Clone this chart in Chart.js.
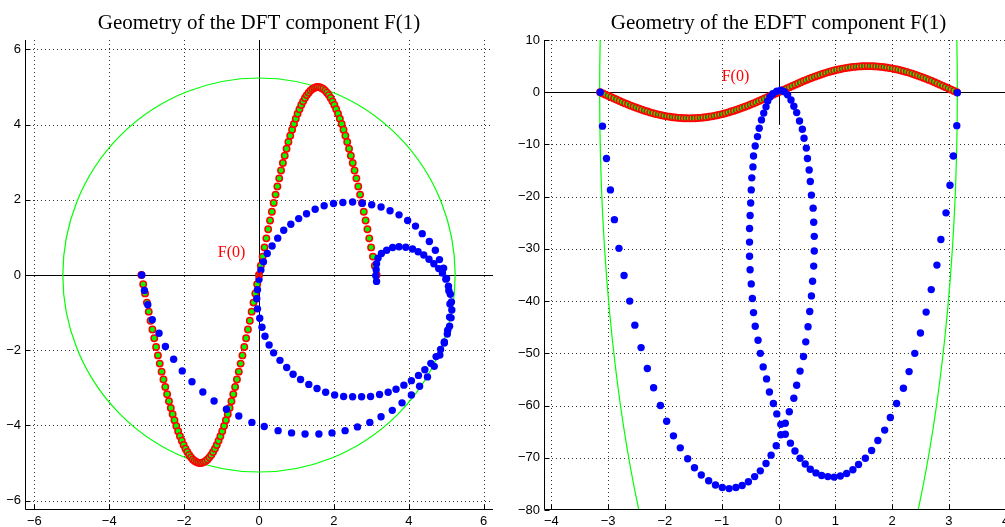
<!DOCTYPE html>
<html><head><meta charset="utf-8">
<script src="https://cdn.jsdelivr.net/npm/chart.js@4.4.1/dist/chart.umd.min.js"></script>
<style>
html,body{margin:0;padding:0;background:#fff;overflow:hidden;width:1005px;height:527px}
#c1{position:absolute;left:0;top:0;width:500px;height:527px}
#c2{position:absolute;left:500px;top:0;width:520px;height:527px}
</style></head><body>
<canvas id="c1" width="500" height="527"></canvas>
<canvas id="c2" width="520" height="527"></canvas>
<script>
// ---------- data ----------
const theta = [
-3.142,-3.093,-3.043,-2.994,-2.945,-2.896,-2.847,-2.798,-2.749,-2.700,
-2.651,-2.601,-2.552,-2.503,-2.454,-2.405,-2.356,-2.307,-2.258,-2.209,
-2.160,-2.111,-2.062,-2.013,-1.963,-1.914,-1.865,-1.816,-1.767,-1.718,
-1.669,-1.620,-1.571,-1.522,-1.473,-1.424,-1.374,-1.325,-1.276,-1.227,
-1.178,-1.129,-1.080,-1.031,-0.982,-0.933,-0.884,-0.834,-0.785,-0.736,
-0.687,-0.638,-0.589,-0.540,-0.491,-0.442,-0.393,-0.344,-0.295,-0.245,
-0.196,-0.147,-0.098,-0.049,0,
0.049,0.098,0.147,0.196,0.245,0.295,0.344,0.393,0.442,0.491,
0.540,0.589,0.638,0.687,0.736,0.785,0.834,0.884,0.933,0.982,
1.031,1.080,1.129,1.178,1.227,1.276,1.325,1.374,1.424,1.473,
1.522,1.571,1.620,1.669,1.718,1.767,1.816,1.865,1.914,1.963,
2.013,2.062,2.111,2.160,2.209,2.258,2.307,2.356,2.405,2.454,
2.503,2.552,2.601,2.651,2.700,2.749,2.798,2.847,2.896,2.945,
2.994,3.043,3.093,3.142];
const sineVals = [
0,-0.245,-0.490,-0.734,-0.975,-1.215,-1.451,-1.684,-1.913,-2.138,
-2.357,-2.571,-2.778,-2.978,-3.172,-3.358,-3.536,-3.705,-3.865,-4.016,
-4.157,-4.289,-4.410,-4.520,-4.619,-4.708,-4.785,-4.850,-4.904,-4.946,
-4.976,-4.994,-5.000,
-4.994,-4.976,-4.946,-4.904,-4.850,-4.785,-4.708,-4.619,-4.520,-4.410,
-4.289,-4.157,-4.016,-3.865,-3.705,-3.536,-3.358,-3.172,-2.978,-2.778,
-2.571,-2.357,-2.138,-1.913,-1.684,-1.451,-1.215,-0.975,-0.734,-0.490,
-0.245,0,
0.245,0.490,0.734,0.975,1.215,1.451,1.684,1.913,2.138,
2.357,2.571,2.778,2.978,3.172,3.358,3.536,3.705,3.865,4.016,
4.157,4.289,4.410,4.520,4.619,4.708,4.785,4.850,4.904,4.946,
4.976,4.994,5.000,
4.994,4.976,4.946,4.904,4.850,4.785,4.708,4.619,4.520,4.410,
4.289,4.157,4.016,3.865,3.705,3.536,3.358,3.172,2.978,2.778,
2.571,2.357,2.138,1.913,1.684,1.451,1.215,0.975,0.734,0.490,
0.245,0];

// DFT component F(1): real and imaginary parts
const dftRe = [
-3.13,-3.06,-2.97,-2.85,-2.67,-2.50,-2.28,-2.05,-1.79,-1.50,-1.20,-0.87,-0.54,-0.19,0.14,0.51,0.87,1.23,1.60,1.95,
2.30,2.63,2.96,3.26,3.56,3.82,4.07,4.29,4.50,4.68,4.83,4.95,5.04,5.09,5.10,5.07,
5.01,4.93,4.82,4.71,4.55,4.36,4.18,3.97,3.74,3.50,3.26,3.01,2.76,2.50,2.24,1.99,1.74,1.50,1.27,1.06,0.85,0.66,0.50,0.35,0.22,0.12,0.05,
0.00,-0.04,-0.06,-0.04,0.02,0.08,0.16,0.27,0.39,0.56,0.74,0.91,1.11,1.33,1.55,1.78,2.02,2.26,2.50,2.74,2.98,3.22,3.45,3.66,3.87,4.07,
4.26,4.43,4.59,4.73,4.85,4.95,5.03,5.09,5.13,5.15,5.14,5.11,5.06,4.99,
4.90,4.80,4.67,4.54,4.40,4.25,4.10,3.92,3.74,3.57,3.41,3.27,3.18,3.14,3.13,3.12,3.14];
const dftIm = [
0.00,-0.41,-0.79,-1.19,-1.55,-1.90,-2.24,-2.55,-2.84,-3.11,-3.35,-3.57,-3.75,-3.92,-4.03,-4.14,-4.20,-4.23,-4.23,-4.20,
-4.14,-4.04,-3.92,-3.77,-3.60,-3.40,-3.19,-2.96,-2.71,-2.43,-2.13,-1.81,-1.47,-1.12,-0.77,-0.42,
-0.09,0.18,0.41,0.66,0.89,1.10,1.30,1.45,1.60,1.71,1.81,1.87,1.91,1.94,1.93,1.90,1.84,1.75,1.63,1.50,1.35,1.19,0.98,0.77,0.57,0.35,0.13,
-0.12,-0.39,-0.63,-0.90,-1.15,-1.39,-1.63,-1.86,-2.07,-2.27,-2.46,-2.64,-2.78,-2.91,-3.02,-3.12,-3.19,-3.23,-3.24,-3.24,-3.23,-3.18,-3.12,-3.04,-2.93,-2.81,
-2.67,-2.52,-2.35,-2.17,-1.98,-1.78,-1.57,-1.36,-1.14,-0.93,-0.72,-0.51,-0.30,-0.11,
0.05,0.17,0.30,0.42,0.53,0.62,0.69,0.74,0.75,0.73,0.66,0.57,0.45,0.30,0.14,-0.02,-0.17];

// EDFT component F(1): real and imaginary parts
const edftRe = [
-3.14,-3.10,-3.03,-2.96,-2.89,-2.81,-2.72,-2.62,-2.53,-2.42,-2.31,-2.20,-2.08,-1.97,-1.85,-1.73,-1.60,-1.48,-1.36,-1.23,
-1.11,-0.99,-0.87,-0.75,-0.64,-0.53,-0.42,-0.32,-0.22,-0.13,-0.04,0.04,0.12,0.19,0.27,0.32,0.38,0.44,0.48,0.52,
0.55,0.58,0.60,0.62,0.63,0.63,0.62,0.61,0.58,0.56,0.54,0.51,0.49,0.45,0.42,0.37,0.32,0.27,0.22,0.16,
0.10,0.04,-0.03,-0.10,-0.15,-0.19,-0.22,-0.26,-0.30,-0.34,-0.37,-0.41,-0.44,-0.45,-0.47,-0.48,-0.49,-0.50,-0.51,-0.51,
-0.51,-0.50,-0.48,-0.46,-0.44,-0.41,-0.36,-0.32,-0.27,-0.21,-0.16,-0.09,-0.03,0.04,0.12,0.21,0.29,0.38,0.47,0.56,
0.66,0.76,0.87,0.98,1.09,1.20,1.31,1.41,1.53,1.64,1.75,1.87,1.97,2.08,2.20,2.30,2.40,2.50,2.60,2.69,
2.79,2.86,2.95,3.02,3.08,3.14,3.15];
const edftIm = [
0,-6.5,-12.7,-18.7,-24.4,-29.9,-35.1,-40.0,-44.6,-48.9,-52.9,-56.6,-60.0,-63.0,-65.8,-68.1,-70.2,-71.9,-73.3,-74.4,
-75.2,-75.7,-75.9,-75.7,-75.3,-74.6,-73.6,-72.5,-71.1,-69.5,-67.7,-65.6,-63.4,-61.2,-58.6,-56.1,-53.4,-50.6,-47.8,-44.9,
-42.0,-39.0,-36.2,-33.3,-30.4,-27.6,-24.9,-22.2,-19.7,-17.1,-14.9,-12.7,-10.7,-8.8,-7.1,-5.5,-3.9,-2.7,-1.5,-0.5,
0.1,0.4,0.2,-0.3,-0.9,-1.7,-2.8,-4.0,-5.3,-6.9,-8.5,-10.3,-12.2,-14.3,-16.4,-18.7,-21.2,-23.6,-26.1,-28.7,
-31.4,-34.0,-36.7,-39.5,-42.2,-44.8,-47.5,-50.0,-52.6,-54.9,-57.4,-59.6,-61.6,-63.6,-65.5,-67.2,-68.7,-70.1,-71.2,-72.2,
-72.9,-73.4,-73.6,-73.7,-73.5,-73.0,-72.3,-71.3,-70.1,-68.6,-66.7,-64.7,-62.3,-59.6,-56.7,-53.5,-50.0,-46.1,-42.1,-37.8,
-33.1,-28.2,-23.1,-17.8,-12.2,-6.4,-0.1];

// ticks
const xTicksL = [-6,-4,-2,0,2,4,6];
const yTicksL = [6,4,2,0,-2,-4,-6];
const xTicksR = [-4,-3,-2,-1,0,1,2,3,4];
const yTicksR = [10,0,-10,-20,-30,-40,-50,-60,-70,-80];

// green reference curves (semi-axes in data units)
const circleL = [5.24, 5.24];
const ellipseR = [3.15, 128];
const f0Text = 'F(0)';
const f0PosL = [-1.1, 0.6];
const f0PosR = [-1.0, 2.9];
const titles = ['Geometry of the DFT component F(1)', 'Geometry of the EDFT component F(1)'];

// ---------- drawing ----------
const toPts = (xs, ys) => xs.map((v, i) => ({x: v, y: ys[i]}));
const fmt = v => (v < 0 ? '\u2212' + Math.abs(v) : String(v));
const tickFont = {family: 'Liberation Sans', size: 13};

const deco = {
  id: 'deco',
  beforeDatasetsDraw(chart, args, o) {
    const {ctx, chartArea: a, scales: {x, y}} = chart;
    ctx.save();
    ctx.beginPath(); ctx.rect(a.left, a.top, a.right - a.left, a.bottom - a.top); ctx.clip();
    ctx.setLineDash([1, 3]); ctx.strokeStyle = 'rgba(0,0,0,0.8)'; ctx.lineWidth = 1;
    x.ticks.forEach(t => { const p = Math.round(x.getPixelForValue(t.value)) + 0.5;
      ctx.beginPath(); ctx.moveTo(p, a.top); ctx.lineTo(p, a.bottom); ctx.stroke(); });
    y.ticks.forEach(t => { const p = Math.round(y.getPixelForValue(t.value)) + 0.5;
      ctx.beginPath(); ctx.moveTo(a.left, p); ctx.lineTo(a.right, p); ctx.stroke(); });
    ctx.setLineDash([]);
    ctx.strokeStyle = '#000'; ctx.lineWidth = 1;
    const py0 = Math.round(y.getPixelForValue(0)) + 0.5, px0 = Math.round(x.getPixelForValue(0)) + 0.5;
    ctx.beginPath(); ctx.moveTo(x.getPixelForValue(-o.zero), py0); ctx.lineTo(x.getPixelForValue(o.zero), py0); ctx.stroke();
    ctx.beginPath(); ctx.moveTo(px0, y.getPixelForValue(-o.zero)); ctx.lineTo(px0, y.getPixelForValue(o.zero)); ctx.stroke();
    const cx = x.getPixelForValue(0), cy = y.getPixelForValue(0);
    const rx = Math.abs(x.getPixelForValue(o.ell[0]) - cx), ry = Math.abs(y.getPixelForValue(o.ell[1]) - cy);
    ctx.strokeStyle = '#00ff00'; ctx.lineWidth = 1.2;
    ctx.beginPath(); ctx.ellipse(cx, cy, rx, ry, 0, 0, Math.PI * 2); ctx.stroke();
    ctx.restore();
  },
  afterDatasetsDraw(chart, args, o) {
    const {ctx, chartArea: a, scales: {x, y}} = chart;
    ctx.save();
    ctx.strokeStyle = '#000'; ctx.lineWidth = 1;
    const L = Math.round(a.left) + 0.5, B = Math.round(a.bottom) - 0.5;
    ctx.beginPath(); ctx.moveTo(L, a.top); ctx.lineTo(L, B); ctx.lineTo(a.right, B); ctx.stroke();
    x.ticks.forEach(t => { const p = Math.round(x.getPixelForValue(t.value)) + 0.5;
      ctx.beginPath(); ctx.moveTo(p, B); ctx.lineTo(p, B - 5); ctx.stroke(); });
    y.ticks.forEach(t => { const p = Math.round(y.getPixelForValue(t.value)) + 0.5;
      ctx.beginPath(); ctx.moveTo(L, p); ctx.lineTo(L + 5, p); ctx.stroke(); });
    ctx.fillStyle = '#ff0000'; ctx.font = '16px "Liberation Serif"';
    ctx.textAlign = 'left'; ctx.textBaseline = 'middle';
    ctx.fillText(o.label, x.getPixelForValue(o.labelPos[0]), y.getPixelForValue(o.labelPos[1]));
    ctx.restore();
  }
};

function makeChart(id, c) {
  const sets = [
    {data: toPts(c.re, c.im), order: 1, pointRadius: 3.7, pointBorderWidth: 0,
     pointBackgroundColor: '#0000ff', backgroundColor: '#0000ff', borderColor: '#0000ff'},
    {data: toPts(theta, sineVals), order: 2, pointRadius: 3.2, pointBorderWidth: 1.5,
     pointBorderColor: '#ff0000', pointBackgroundColor: '#00ff00', borderColor: '#ff0000', backgroundColor: '#00ff00'}
  ];
  if (c.marker) sets.push({data: [{x: 0, y: 0}], order: 0, pointStyle: 'crossRot', pointRadius: 4,
    pointBorderWidth: 2, pointBorderColor: '#ff0000', borderColor: '#ff0000'});
  return new Chart(document.getElementById(id), {
    type: 'scatter',
    data: {datasets: sets},
    options: {
      responsive: false, animation: false, devicePixelRatio: 1, events: [],
      layout: {padding: {left: 0, right: c.padRight, top: 0, bottom: 0}},
      plugins: {
        legend: {display: false}, tooltip: {enabled: false},
        title: {display: true, text: c.title, fullSize: false, color: '#000',
          font: {family: 'Liberation Serif', size: 21, weight: 'normal', lineHeight: 1.2},
          padding: {top: 11, bottom: 3.8}},
        deco: {zero: 6.25, ell: c.ell, label: f0Text, labelPos: c.labelPos}
      },
      scales: {
        x: {type: 'linear', min: c.xr[0], max: c.xr[1],
          afterBuildTicks: s => { s.ticks = c.xt.map(v => ({value: v})); },
          afterFit: s => { s.height = 17; },
          ticks: {autoSkip: false, maxRotation: 0, minRotation: 0, padding: 4, color: '#000', font: tickFont, callback: fmt},
          grid: {display: false, drawTicks: false}, border: {display: false}},
        y: {type: 'linear', min: c.yr[0], max: c.yr[1],
          afterBuildTicks: s => { s.ticks = c.yt.map(v => ({value: v})); },
          afterFit: s => { s.width = c.yw; },
          ticks: {autoSkip: false, padding: 4, color: '#000', font: tickFont, callback: fmt},
          grid: {display: false, drawTicks: false}, border: {display: false}}
      }
    },
    plugins: [deco]
  });
}

makeChart('c1', {re: dftRe, im: dftIm, xr: [-6.25, 6.25], yr: [-6.25, 6.25], xt: xTicksL, yt: yTicksL,
  yw: 25, padRight: 7, ell: circleL, labelPos: f0PosL, title: titles[0], marker: true});
makeChart('c2', {re: edftRe, im: edftIm, xr: [-4.13, 4.13], yr: [-80, 10], xt: xTicksR, yt: yTicksR,
  yw: 44, padRight: 7, ell: ellipseR, labelPos: f0PosR, title: titles[1], marker: false});
</script></body></html>
